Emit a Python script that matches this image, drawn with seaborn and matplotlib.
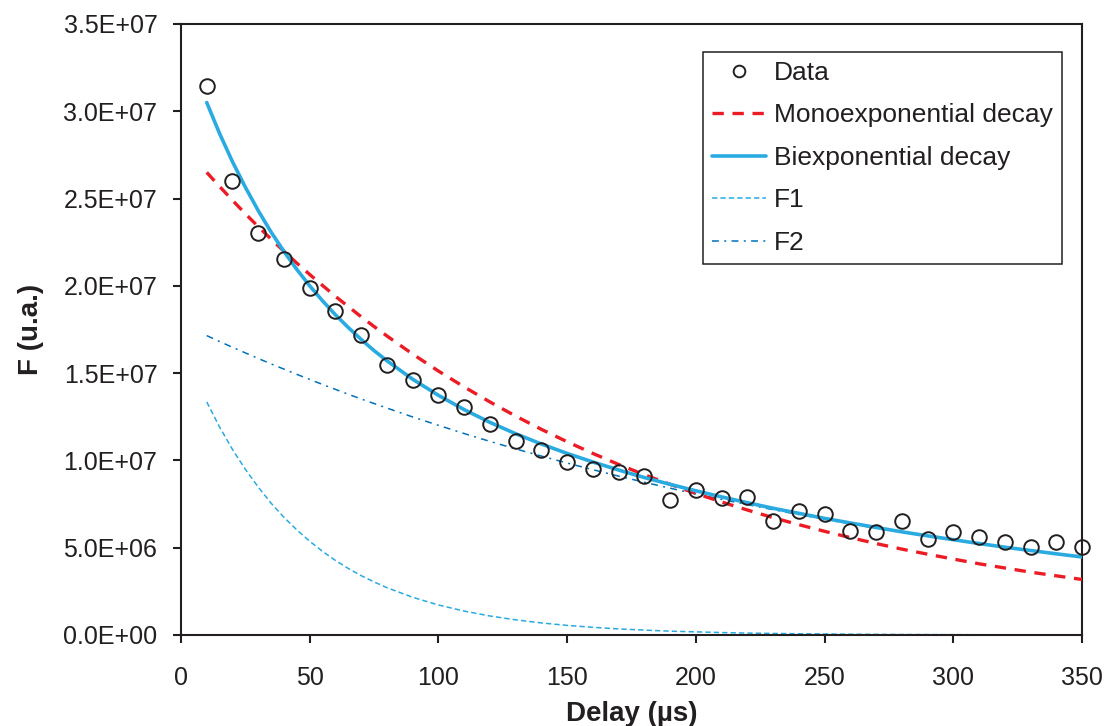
import matplotlib
matplotlib.use("Agg")
import matplotlib.pyplot as plt
import seaborn as sns
import pandas as pd

# ---- data (values in units of 1E+07) ----
delay = [10, 20, 30, 40, 50, 60, 70, 80, 90, 100, 110, 120, 130, 140, 150, 160, 170,
         180, 190, 200, 210, 220, 230, 240, 250, 260, 270, 280, 290, 300, 310, 320,
         330, 340, 350]
data_f = [3.146, 2.600, 2.300, 2.155, 1.986, 1.857, 1.717, 1.549, 1.463, 1.372, 1.306,
          1.211, 1.110, 1.062, 0.990, 0.952, 0.932, 0.913, 0.776, 0.831, 0.786, 0.793,
          0.654, 0.709, 0.694, 0.598, 0.589, 0.654, 0.551, 0.589, 0.560, 0.531, 0.505,
          0.534, 0.505]

# fitted curves, read at these delays
fit_delay = [10, 15, 20, 25, 30, 35, 40, 45, 50, 55, 60, 65, 70, 75, 80, 90, 100, 110,
             120, 130, 140, 150, 160, 170, 180, 190, 200, 210, 220, 230, 240, 250, 260,
             270, 280, 290, 300, 310, 320, 330, 340, 350]
mono = [2.650, 2.569, 2.490, 2.413, 2.339, 2.268, 2.198, 2.130, 2.065, 2.002, 1.940,
        1.881, 1.823, 1.767, 1.713, 1.609, 1.512, 1.421, 1.335, 1.254, 1.178, 1.107,
        1.040, 0.977, 0.918, 0.863, 0.811, 0.762, 0.716, 0.672, 0.632, 0.594, 0.558,
        0.524, 0.492, 0.463, 0.435, 0.408, 0.384, 0.360, 0.339, 0.318]
biexp = [3.050, 2.872, 2.711, 2.565, 2.431, 2.308, 2.197, 2.094, 2.000, 1.914, 1.834,
         1.761, 1.693, 1.629, 1.571, 1.465, 1.373, 1.291, 1.218, 1.153, 1.094, 1.040,
         0.991, 0.945, 0.902, 0.863, 0.826, 0.791, 0.758, 0.726, 0.697, 0.668, 0.642,
         0.616, 0.591, 0.568, 0.546, 0.524, 0.503, 0.484, 0.465, 0.447]
f1 = [1.335, 1.191, 1.063, 0.949, 0.847, 0.755, 0.674, 0.602, 0.537, 0.479, 0.427,
      0.381, 0.340, 0.304, 0.271, 0.216, 0.172, 0.137, 0.109, 0.087, 0.069, 0.055,
      0.044, 0.035, 0.028, 0.022, 0.018, 0.014, 0.011, 0.009, 0.007, 0.006, 0.0045,
      0.0036, 0.0028, 0.0023, 0.0018, 0.0014, 0.0011, 0.0009, 0.0007, 0.0006]
f2 = [1.715, 1.681, 1.648, 1.616, 1.584, 1.553, 1.523, 1.493, 1.464, 1.435, 1.407,
      1.379, 1.352, 1.326, 1.300, 1.249, 1.201, 1.154, 1.109, 1.066, 1.025, 0.985,
      0.947, 0.910, 0.875, 0.841, 0.808, 0.777, 0.747, 0.718, 0.690, 0.663, 0.637,
      0.612, 0.589, 0.566, 0.544, 0.523, 0.502, 0.483, 0.464, 0.446]
scale = 1e7

xticks = [0, 50, 100, 150, 200, 250, 300, 350]
yticks = [0, 0.5e7, 1.0e7, 1.5e7, 2.0e7, 2.5e7, 3.0e7, 3.5e7]
ytick_labels = ["0.0E+00", "5.0E+06", "1.0E+07", "1.5E+07", "2.0E+07", "2.5E+07",
                "3.0E+07", "3.5E+07"]
labels = ["Data", "Monoexponential decay", "Biexponential decay", "F1", "F2"]
xlabel = "Delay (µs)"
ylabel = "F (u.a.)"

df_data = pd.DataFrame({"delay": delay, "data": [v * scale for v in data_f]})
df_fit = pd.DataFrame({
    "delay": fit_delay,
    "mono": [v * scale for v in mono],
    "biexp": [v * scale for v in biexp],
    "f1": [v * scale for v in f1],
    "f2": [v * scale for v in f2],
})

sns.set_theme(style="white")
plt.rcParams["font.family"] = ["Liberation Sans", "DejaVu Sans"]
INK = "#231f20"
RED = "#ed1c24"
LBLUE = "#29abe2"
DBLUE = "#0071bc"

fig = plt.figure(figsize=(11.06, 7.26), dpi=100)
ax = fig.add_axes([181 / 1106, 1 - 635 / 726, 901 / 1106, 611 / 726])

sns.lineplot(data=df_fit, x="delay", y="f1", ax=ax, color=LBLUE, linewidth=1.1,
             linestyle=(0, (3.5, 2.0)), label=labels[3], zorder=2)
sns.lineplot(data=df_fit, x="delay", y="f2", ax=ax, color=DBLUE, linewidth=1.1,
             linestyle=(0, (4.5, 3.5, 1.3, 3.5)), label=labels[4], zorder=2)
sns.lineplot(data=df_fit, x="delay", y="mono", ax=ax, color=RED, linewidth=2.4,
             linestyle=(0, (3.4, 2.6)), label=labels[1], zorder=3)
sns.lineplot(data=df_fit, x="delay", y="biexp", ax=ax, color=LBLUE, linewidth=2.6,
             linestyle="-", label=labels[2], zorder=3)
sns.lineplot(data=df_data, x="delay", y="data", ax=ax, linestyle="", marker="o",
             markersize=10.5, markerfacecolor="none", markeredgecolor=INK,
             markeredgewidth=1.4, color=INK, label=labels[0], zorder=4, clip_on=False)

ax.set_xlim(0, 350)
ax.set_ylim(0, 3.5e7)
ax.set_xticks(xticks)
ax.set_xticklabels([str(t) for t in xticks])
ax.set_yticks(yticks)
ax.set_yticklabels(ytick_labels)

for s in ax.spines.values():
    s.set_visible(True)
    s.set_color(INK)
    s.set_linewidth(1.5)

ax.tick_params(axis="both", which="major", direction="out", length=6, width=1.5,
               color=INK, labelcolor=INK, labelsize=18)
ax.tick_params(axis="x", pad=16, bottom=True)
ax.tick_params(axis="y", pad=11, left=True)

ax.set_xlabel(xlabel, fontsize=20, fontweight="bold", color=INK, labelpad=8)
ax.set_ylabel(ylabel, fontsize=20, fontweight="bold", color=INK, labelpad=14)

handles, labs = ax.get_legend_handles_labels()
order = [labs.index(l) for l in labels]
leg = ax.legend([handles[i] for i in order], [labs[i] for i in order],
                loc="upper right", bbox_to_anchor=(1062 / 1106, 1 - 52 / 726),
                bbox_transform=fig.transFigure, borderaxespad=0, fontsize=19,
                frameon=True, fancybox=False, shadow=False, framealpha=1,
                edgecolor=INK, handlelength=2.05, handletextpad=0.3,
                labelspacing=0.7, borderpad=0.34, markerscale=0.8)
leg.get_frame().set_linewidth(1.1)
for t in leg.get_texts():
    t.set_color(INK)

fig.savefig("out.png", dpi=100)
